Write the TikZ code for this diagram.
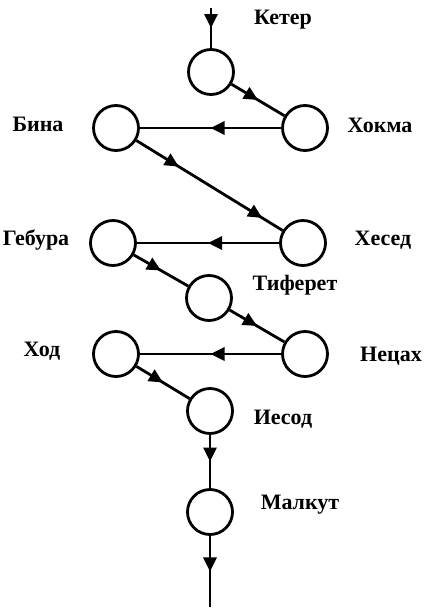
\documentclass[tikz,border=0pt]{standalone}
\usepackage{fontspec}
\setmainfont{Liberation Serif}
\usepackage{tikz}
\usetikzlibrary{arrows.meta,calc,positioning,decorations.markings}
\definecolor{inkblack}{HTML}{000000}
\tikzset{
  sefira/.style={circle, draw=inkblack, line width=2.8pt, minimum size=45pt, inner sep=0pt},
  sefiraname/.style={font=\bfseries\fontsize{22}{25}\selectfont, inner sep=0pt, text=inkblack},
  flow/.style={inkblack, line width=2.8pt, postaction={decorate}, decoration={markings, mark=at position 0.5 with {\arrow{Triangle[length=14pt,width=13pt]}}}},
  flowtwice/.style={inkblack, line width=2.8pt, postaction={decorate}, decoration={markings, mark=at position 0.29 with {\arrow{Triangle[length=14pt,width=13pt]}}, mark=at position 0.86 with {\arrow{Triangle[length=14pt,width=13pt]}}}}
}

\begin{document}
\begin{tikzpicture}[x=1pt, y=-1pt]
  \useasboundingbox (0,0) rectangle (427,610);
  % the ten sefirot
  \node[sefira] (keter) at (211,72) {};
  \node[sefira] (hokhma) at (305,128) {};
  \node[sefira] (bina) at (116,128) {};
  \node[sefira] (hesed) at (303,243) {};
  \node[sefira] (gebura) at (113,243) {};
  \node[sefira] (tiferet) at (209,298) {};
  \node[sefira] (netzah) at (305,354) {};
  \node[sefira] (hod) at (116,354) {};
  \node[sefira] (yesod) at (210,411) {};
  \node[sefira] (malkut) at (210,512) {};
  \coordinate (topend) at (211,8);
  \coordinate (bottomend) at (210,607);
  % names
  \node[sefiraname] (ketername) at (283,20) {Кетер};
  \node[sefiraname] (hokhmaname) at (380,125) {Хокма};
  \node[sefiraname] (binaname) at (38,124) {Бина};
  \node[sefiraname] (hesedname) at (383,240) {Хесед};
  \node[sefiraname] (geburaname) at (36,240) {Гебура};
  \node[sefiraname] (tiferetname) at (295,285) {Тиферет};
  \node[sefiraname] (netzahname) at (391,356) {Нецах};
  \node[sefiraname] (hodname) at (42,351) {Ход};
  \node[sefiraname] (yesodname) at (283,419) {Иесод};
  \node[sefiraname] (malkutname) at (300,505) {Малкут};
  % the path of descent
  \draw[flow] (topend) -- (keter);
  \draw[flow] (keter) -- (hokhma);
  \draw[flow] (hokhma) -- (bina);
  \draw[flowtwice] (bina) -- (hesed);
  \draw[flow] (hesed) -- (gebura);
  \draw[flow] (gebura) -- (tiferet);
  \draw[flow] (tiferet) -- (netzah);
  \draw[flow] (netzah) -- (hod);
  \draw[flow] (hod) -- (yesod);
  \draw[flow] (yesod) -- (malkut);
  \draw[flow] (malkut) -- (bottomend);
\end{tikzpicture}
\end{document}
